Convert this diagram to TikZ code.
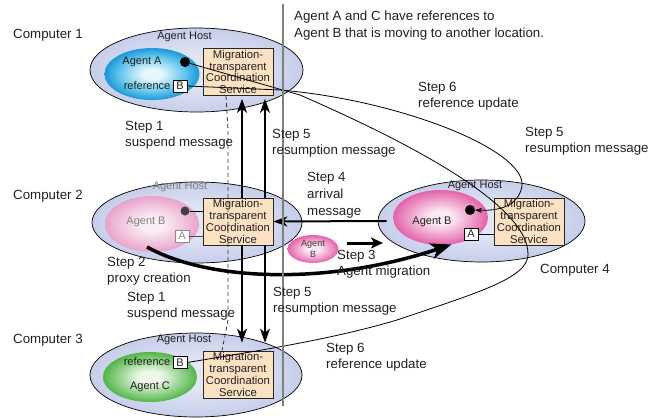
\documentclass[tikz,border=0pt]{standalone}
\usepackage{fontspec}
\setmainfont{Liberation Sans}
\usetikzlibrary{shapes.geometric,arrows.meta,calc}
\definecolor{hostIn}{HTML}{E2E6F5}
\definecolor{hostOut}{HTML}{C6CEEA}
\definecolor{aIn}{HTML}{E6F7FD}
\definecolor{aMid}{HTML}{6FCBEF}
\definecolor{aOut}{HTML}{1A98D8}
\definecolor{bIn}{HTML}{FBEAF2}
\definecolor{bOut}{HTML}{E462AA}
\definecolor{b2In}{HTML}{FBEFF5}
\definecolor{b2Out}{HTML}{E9A3CB}
\definecolor{cIn}{HTML}{EDF8E8}
\definecolor{cOut}{HTML}{52B648}
\definecolor{svcfill}{HTML}{FCE2C2}
\definecolor{txt}{HTML}{231F20}
\pgfdeclareradialshading{hostshade}{\pgfpoint{0bp}{0bp}}{color(0bp)=(hostIn); color(8bp)=(hostIn); color(25bp)=(hostOut); color(50bp)=(hostOut)}
\pgfdeclareradialshading{shA}{\pgfpoint{0bp}{0bp}}{color(0bp)=(aIn); color(5bp)=(aIn); color(16bp)=(aMid); color(25bp)=(aOut); color(50bp)=(aOut)}
\pgfdeclareradialshading{shB}{\pgfpoint{0bp}{0bp}}{color(0bp)=(bIn); color(6bp)=(bIn); color(25bp)=(bOut); color(50bp)=(bOut)}
\pgfdeclareradialshading{shBtwo}{\pgfpoint{0bp}{0bp}}{color(0bp)=(b2In); color(6bp)=(b2In); color(25bp)=(b2Out); color(50bp)=(b2Out)}
\pgfdeclareradialshading{shC}{\pgfpoint{0bp}{0bp}}{color(0bp)=(cIn); color(6bp)=(cIn); color(25bp)=(cOut); color(50bp)=(cOut)}
\begin{document}
\begin{tikzpicture}[x=1pt,y=-1pt,
  host/.style={ellipse, draw=black, line width=0.7pt, shading=hostshade, inner sep=0pt},
  agent/.style={ellipse, draw=none, inner sep=0pt},
  svc/.style={draw=black!85, line width=0.7pt, fill=svcfill, minimum width=70pt, minimum height=47pt, inner sep=0pt, align=center, text=txt, font=\fontsize{11.3}{11.8}\selectfont},
  lbl/.style={anchor=north west, inner sep=0pt, align=left, text=txt, font=\fontsize{13.3}{16.5}\selectfont},
  inlbl/.style={inner sep=0pt, text=txt, font=\fontsize{11}{13}\selectfont},
  refbox/.style={draw=black, fill=white, minimum width=14pt, minimum height=12pt, inner sep=0pt, line width=0.7pt, text=txt, font=\fontsize{11}{12}\selectfont},
  agdot/.style={circle, fill=black, minimum size=10pt, inner sep=0pt},
  refline/.style={line width=0.8pt, draw=black},
  bigarrow/.style={line width=2pt, draw=black, -{Stealth[length=14pt,width=10pt,inset=4pt]}},
]
\useasboundingbox (0,0) rectangle (665,418);

% hosts
\node[host, minimum width=213pt, minimum height=84pt] (h1) at (196.5,70) {};
\node[host, minimum width=210pt, minimum height=81pt] (h2) at (197,222.5) {};
\node[host, minimum width=212pt, minimum height=84pt] (h3) at (196,375) {};
\node[host, minimum width=207pt, minimum height=82pt] (h4) at (481.5,221) {};

% agents
\node[agent, shading=shA, minimum width=95pt, minimum height=52pt] (agA) at (152,74) {};
\node[agent, shading=shBtwo, minimum width=94pt, minimum height=56pt] (agB2) at (152,224) {};
\node[agent, shading=shB, minimum width=95pt, minimum height=55pt] (agB4) at (440.5,217.5) {};
\node[agent, shading=shC, minimum width=94pt, minimum height=50pt] (agC) at (150,377) {};
\node[agent, shading=shB, minimum width=51pt, minimum height=28pt, align=center, text=black!75, font=\fontsize{9}{11.5}\selectfont] (agBs) at (313,249) {Agent\\B};

% service boxes
\node[svc] (s1) at (238,72) {Migration-\\transparent\\Coordination\\Service};
\node[svc] (s2) at (238,221.5) {Migration-\\transparent\\Coordination\\Service};
\node[svc] (s3) at (238,374.5) {Migration-\\transparent\\Coordination\\Service};
\node[svc] (s4) at (529,221.5) {Migration-\\transparent\\Coordination\\Service};

% host labels
\node[inlbl] (hl1) at (184.5,37) {Agent Host};
\node[inlbl, text=black!50] (hl2) at (180,187) {Agent Host};
\node[inlbl] (hl3) at (184,340) {Agent Host};
\node[inlbl] (hl4) at (475,186) {Agent Host};

% computer 1 contents
\node[inlbl] (tA) at (142,62) {Agent A};
\node[inlbl, anchor=east] (r1) at (170.5,85.5) {reference};
\node[refbox] (B1) at (180,86) {B};
\node[agdot] (dotA) at (185,62) {};

% computer 2 contents
\node[inlbl, text=black!50] (tB2) at (146,222) {Agent B};
\node[agdot, fill=black!75, minimum size=9pt] (dot2) at (185,211) {};
\node[refbox, draw=black!45, text=black!45] (A2) at (182,236) {A};
\draw[refline] (dot2) -- (dot2 -| s2.west);
\draw[refline, draw=black!70] (A2) -- (A2 -| s2.west);

% computer 3 contents
\node[inlbl, anchor=east] (r3) at (170.5,362) {reference};
\node[refbox] (B3) at (180,362.5) {B};
\node[inlbl] (tC) at (150,387) {Agent C};

% computer 4 contents
\node[inlbl] (tB4) at (432,222) {Agent B};
\node[agdot] (dot4) at (470,210) {};
\node[refbox] (A4) at (471,234) {A};
\draw[refline] (A4) -- (A4 -| s4.west);

% reference lines
\draw[refline] (dotA) -- (300,95) .. controls (380,130) and (530,200) .. (528,255)
  .. controls (527,278) and (480,292) .. (397,320)
  .. controls (330,340) and (250,352) .. (B3.east);
\draw[refline, -{Stealth[length=7pt,width=5pt]}] (B1.east) -- (280,90)
  .. controls (400,100) and (526,150) .. (522,186)
  .. controls (519,203) and (505,211) .. (dot4);

% dashed suspend path
\coordinate (dA) at (226,0);
\coordinate (dB) at (222,0);
\draw[line width=0.8pt, draw=black!80, dash pattern=on 4pt off 3pt]
  (dA |- s1.south) -- (228,130) -- (228,320) -- (dB |- s3.north);

% vertical message arrows
\coordinate (va) at (242,0);
\coordinate (vb) at (265,0);
\draw[bigarrow, shorten >=3pt] (va |- s2.north) -- (va |- s1.south);
\draw[bigarrow, shorten >=3pt] (vb |- s2.north) -- (vb |- s1.south);
\draw[bigarrow, shorten >=8pt] (va |- s2.south) -- (va |- s3.north);
\draw[bigarrow, shorten >=8pt] (vb |- s2.south) -- (vb |- s3.north);

% step 4 arrival
\draw[bigarrow] ($(h4.west)+(9,0)$) -- (s2.east);

% migration
\coordinate (m0) at (147,247);
\draw[line width=3.5pt, -{Stealth[length=21pt,width=16pt,inset=6pt]}] (m0) .. controls (210,282) and (330,285) .. (agB4.-68);
\coordinate (t3a) at (347,243);
\coordinate (t3b) at (383,243);
\draw[line width=3pt, -{Stealth[length=12pt,width=11pt,inset=3pt]}] (t3a) -- (t3b);

% gray separator
\coordinate (g0) at (283,4);
\coordinate (g1) at (283,406);
\draw[line width=1.2pt, draw=black!50] (g0) -- (g1);

% labels
\node[lbl] (c1) at (13,29) {Computer 1};
\node[lbl] (c2) at (13,190) {Computer 2};
\node[lbl] (c3) at (13,334) {Computer 3};
\node[lbl] (c4) at (540,264) {Computer 4};
\node[lbl, font=\fontsize{13.3}{17}\selectfont] (note) at (294,11) {Agent A and C have references to\\Agent B that is moving to another location.};
\node[lbl] (st6a) at (418,82) {Step 6\\reference update};
\node[lbl] (st5r) at (525,127) {Step 5\\resumption message};
\node[lbl] (st5a) at (272,129) {Step 5\\resumption message};
\node[lbl] (st1a) at (125,121) {Step 1\\suspend message};
\node[lbl, font=\fontsize{13.3}{17}\selectfont] (st4) at (307,172) {Step 4\\arrival\\message};
\node[lbl] (st2) at (107,257) {Step 2\\proxy creation};
\node[lbl] (st3) at (337,250) {Step 3\\Agent migration};
\node[lbl] (st1b) at (127,292) {Step 1\\suspend message};
\node[lbl] (st5b) at (273,287) {Step 5\\resumption message};
\node[lbl] (st6b) at (326,343) {Step 6\\reference update};
\end{tikzpicture}
\end{document}
